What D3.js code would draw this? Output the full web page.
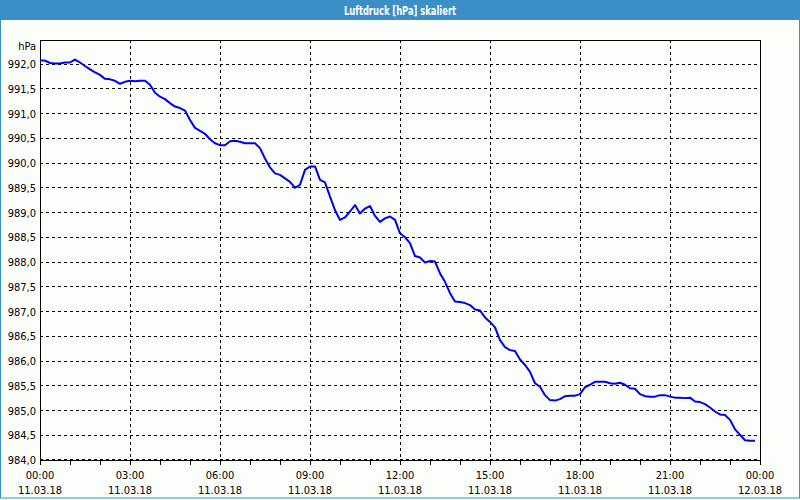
<!DOCTYPE html>
<html>
<head>
<meta charset="utf-8">
<script src="https://cdn.jsdelivr.net/npm/d3@7"></script>
<style>
  html, body { margin: 0; padding: 0; background: #fcfefc; }
  svg { display: block; }
  text { font-family: "DejaVu Sans Condensed", "DejaVu Sans", sans-serif; }
</style>
</head>
<body>
<svg id="chart" width="800" height="500"></svg>
<script>
// ---- data (10-minute readings, 11.03.18 00:00 onward) ----
const titleText = "Luftdruck [hPa] skaliert";
const unitLabel = "hPa";
const startTime = "2018-03-11T00:00:00";
const stepMinutes = 10;
const pressure = [
  992.07, 992.07, 992.02, 992.01, 992.01, 992.03, 992.03, 992.09, 992.03, 991.96,
  991.89, 991.83, 991.78, 991.70, 991.69, 991.66, 991.60, 991.64, 991.66, 991.65,
  991.66, 991.66, 991.58, 991.42, 991.34, 991.29, 991.21, 991.14, 991.11, 991.06,
  990.87, 990.71, 990.65, 990.59, 990.48, 990.40, 990.36, 990.36, 990.44, 990.45,
  990.43, 990.40, 990.40, 990.40, 990.30, 990.09, 989.91, 989.79, 989.76, 989.69,
  989.62, 989.50, 989.56, 989.86, 989.93, 989.93, 989.66, 989.61, 989.32, 989.05,
  988.85, 988.90, 989.02, 989.15, 988.98, 989.08, 989.13, 988.93, 988.81, 988.88,
  988.92, 988.85, 988.58, 988.50, 988.38, 988.12, 988.09, 987.99, 988.02, 988.01,
  987.77, 987.60, 987.37, 987.20, 987.19, 987.17, 987.13, 987.04, 987.02, 986.88,
  986.79, 986.68, 986.42, 986.28, 986.22, 986.20, 986.03, 985.92, 985.78, 985.55,
  985.48, 985.31, 985.21, 985.20, 985.23, 985.29, 985.30, 985.30, 985.33, 985.47,
  985.52, 985.58, 985.58, 985.58, 985.55, 985.54, 985.56, 985.52, 985.45, 985.44,
  985.33, 985.29, 985.28, 985.28, 985.31, 985.31, 985.28, 985.26, 985.26, 985.25,
  985.26, 985.18, 985.17, 985.13, 985.06, 984.98, 984.92, 984.91, 984.81, 984.62,
  984.51, 984.40, 984.39, 984.39
];
const yTicks = [984.0, 984.5, 985.0, 985.5, 986.0, 986.5, 987.0, 987.5, 988.0, 988.5,
                989.0, 989.5, 990.0, 990.5, 991.0, 991.5, 992.0];
const xTickLabels = [
  ["00:00", "11.03.18"], ["03:00", "11.03.18"], ["06:00", "11.03.18"],
  ["09:00", "11.03.18"], ["12:00", "11.03.18"], ["15:00", "11.03.18"],
  ["18:00", "11.03.18"], ["21:00", "11.03.18"], ["00:00", "12.03.18"]
];

// ---- layout ----
const W = 800, H = 500;
const plot = { left: 40, right: 760, top: 40, bottom: 460 };
const svg = d3.select("#chart");

// frame & title bar
svg.append("rect").attr("x", 0).attr("y", 0).attr("width", W).attr("height", H).attr("fill", "#fcfefc");
svg.append("rect").attr("x", 0.5).attr("y", 0.5).attr("width", W - 1).attr("height", H - 2.5)
  .attr("fill", "none").attr("stroke", "#3c8fc6").attr("stroke-width", 1);
svg.append("rect").attr("x", 0).attr("y", 0).attr("width", W).attr("height", 20).attr("fill", "#3c8fc6");
svg.append("text").attr("x", W / 2).attr("y", 14.5).attr("text-anchor", "middle")
  .attr("fill", "#ffffff").attr("font-weight", "bold").attr("font-size", 11.5)
  .attr("textLength", 112).attr("lengthAdjust", "spacingAndGlyphs").text(titleText);

const t0 = new Date(startTime);
const times = pressure.map((v, i) => new Date(t0.getTime() + i * stepMinutes * 60000));
const tEnd = new Date(t0.getTime() + 24 * 3600000);

const x = d3.scaleTime().domain([t0, tEnd]).range([plot.left, plot.right]);
const y = d3.scaleLinear().domain([984, 992 + 24 / 49.5]).range([plot.bottom, plot.top]);

const majorTimes = d3.range(0, 9).map(k => new Date(t0.getTime() + k * 3 * 3600000));
const hourTimes = d3.range(0, 25).map(k => new Date(t0.getTime() + k * 3600000));

// grid
const grid = svg.append("g").attr("stroke", "#000").attr("stroke-dasharray", "3,3")
  .attr("stroke-width", 1).attr("shape-rendering", "crispEdges");
grid.selectAll("line.h").data(yTicks).join("line")
  .attr("x1", plot.left).attr("x2", plot.right)
  .attr("y1", d => d === 984 ? y(d) - 1 : y(d)).attr("y2", d => d === 984 ? y(d) - 1 : y(d));
grid.selectAll("line.v").data(majorTimes.slice(1, -1)).join("line")
  .attr("x1", d => x(d)).attr("x2", d => x(d))
  .attr("y1", plot.top).attr("y2", plot.bottom);

// plot border
svg.append("rect").attr("x", plot.left).attr("y", plot.top)
  .attr("width", plot.right - plot.left).attr("height", plot.bottom - plot.top)
  .attr("fill", "none").attr("stroke", "#000").attr("stroke-width", 1)
  .attr("shape-rendering", "crispEdges");

// x axis (hour ticks, labels every 3h)
const xAxis = d3.axisBottom(x).tickValues(hourTimes).tickSize(5).tickFormat("");
const gx = svg.append("g").attr("transform", `translate(0,${plot.bottom})`).call(xAxis);
gx.select(".domain").remove();
gx.selectAll("line").attr("shape-rendering", "crispEdges");
const xl = svg.append("g").attr("font-size", 11).attr("fill", "#000").attr("text-anchor", "middle");
majorTimes.forEach((d, i) => {
  xl.append("text").attr("x", x(d)).attr("y", 479).text(xTickLabels[i][0]);
  xl.append("text").attr("x", x(d)).attr("y", 494).text(xTickLabels[i][1]);
});

// y axis labels
const yAxis = d3.axisLeft(y).tickValues(yTicks).tickSize(0).tickPadding(4)
  .tickFormat(d => d.toFixed(1).replace(".", ","));
const gy = svg.append("g").attr("transform", `translate(${plot.left},0)`).call(yAxis);
gy.select(".domain").remove();
gy.selectAll("text").attr("font-size", 11).attr("fill", "#000")
  .attr("font-family", "'DejaVu Sans Condensed', 'DejaVu Sans', sans-serif");
svg.append("text").attr("x", 36).attr("y", 50).attr("text-anchor", "end")
  .attr("font-size", 11).attr("fill", "#000").text(unitLabel);

// line
const line = d3.line().x((d, i) => x(times[i])).y(d => y(d));
svg.append("path").datum(pressure).attr("d", line)
  .attr("fill", "none").attr("stroke", "#0000f0").attr("stroke-width", 2)
  .attr("stroke-linejoin", "round");
</script>
</body>
</html>
